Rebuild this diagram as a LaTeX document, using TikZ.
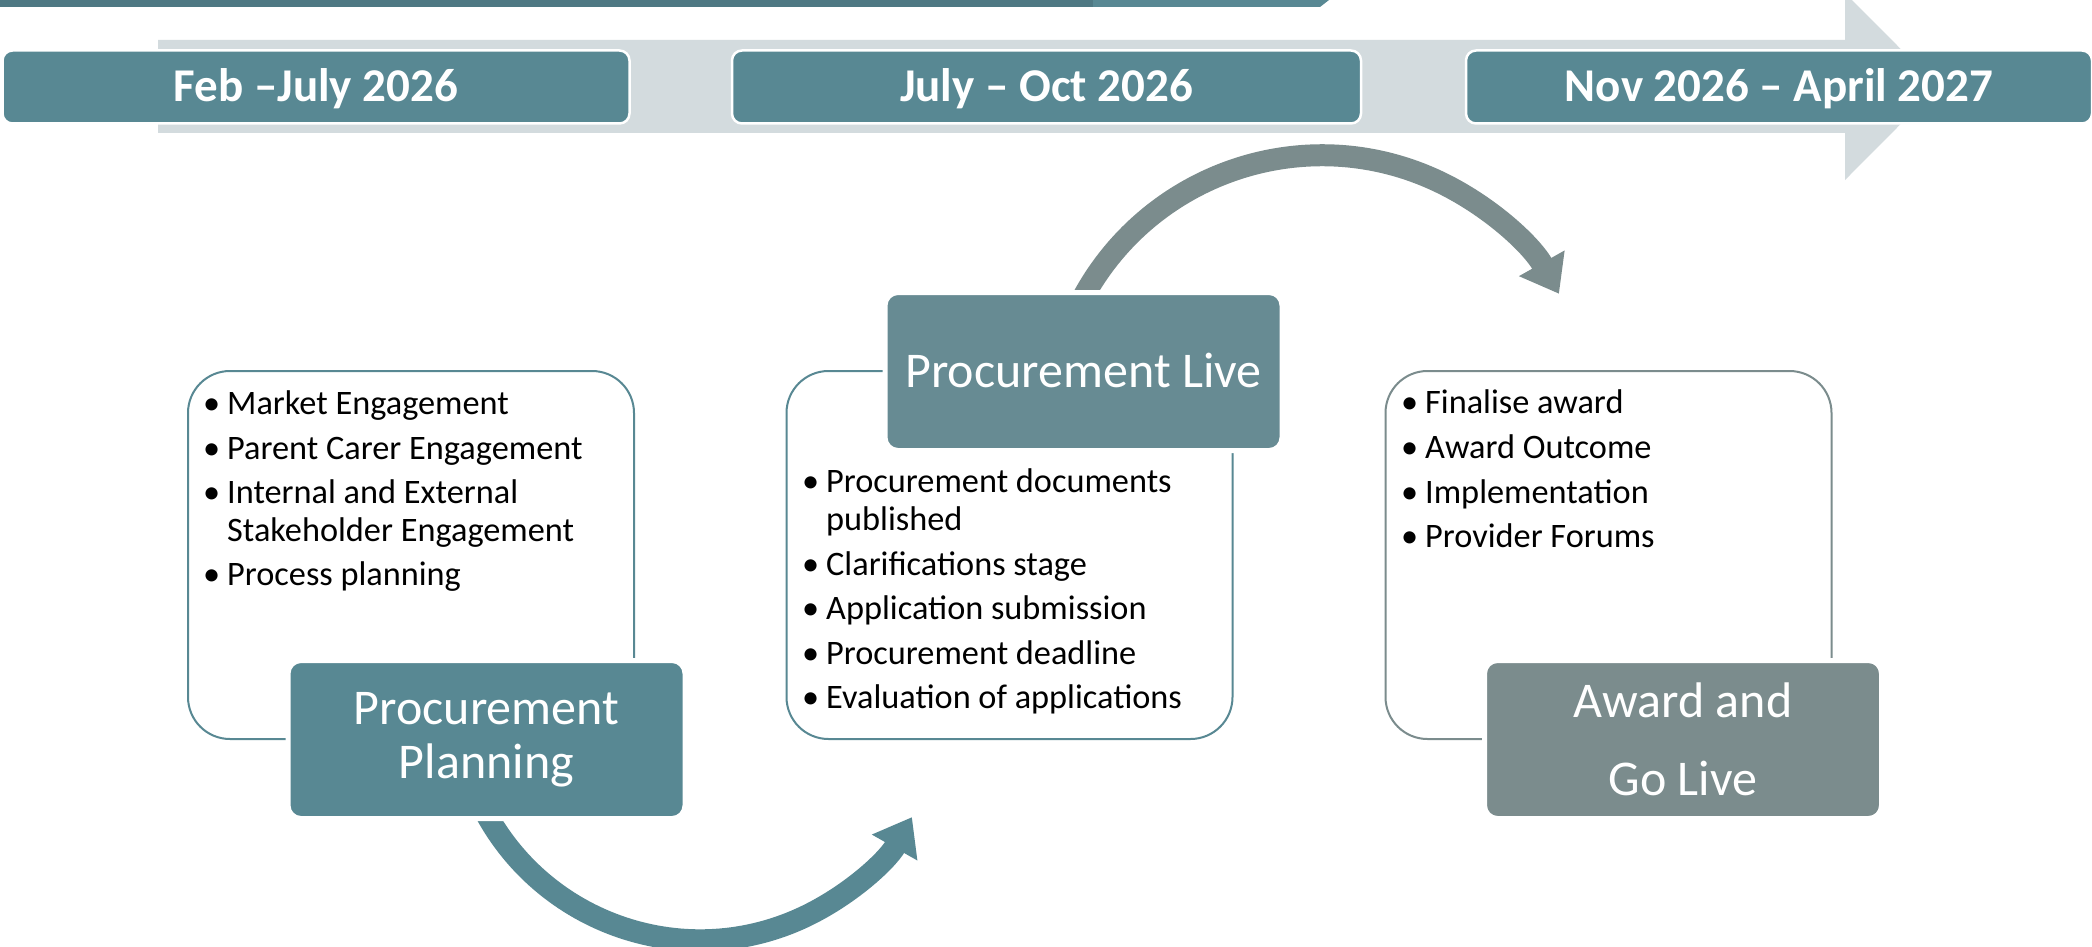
\documentclass[tikz,border=0pt]{standalone}
\usepackage{fontspec}
\setmainfont{Carlito}
\usetikzlibrary{arrows.meta}
\definecolor{cTeal}{HTML}{588893}
\definecolor{cLive}{HTML}{678B93}
\definecolor{cGrey}{HTML}{7B8C8D}
\definecolor{cBg}{HTML}{D3DBDE}
\definecolor{cBand}{HTML}{4E7883}
\newcommand\bul{\makebox[24pt][l]{\textbullet}}
\tikzset{
  datebox/.style={fill=cTeal, draw=white, line width=2.5pt, rounded corners=10pt,
    minimum height=73pt, text=white, font=\fontsize{47}{56}\selectfont\bfseries,
    text height=29.7pt, text depth=0pt, inner sep=0pt},
  outline/.style={draw=#1, line width=2pt, rounded corners=42pt,
    minimum width=446pt, minimum height=368pt, inner sep=0pt},
  titlebox/.style={fill=#1, draw=white, line width=5pt, rounded corners=13pt,
    minimum width=397pt, minimum height=158pt, inner sep=0pt, text=white, align=center},
  item/.style={anchor=base west, inner sep=0pt, font=\fontsize{34.3}{38}\selectfont},
  bigarc/.style={draw=#1, line width=22pt, -{Triangle[length=35pt, width=50pt]}}
}
\begin{document}
\begin{tikzpicture}[x=1pt, y=-1pt]
\useasboundingbox (0,0) rectangle (2092,947);
\fill[white] (0,0) rectangle (2092,947);
% cut-off band at top
\fill[cBand] (0,0) -- (1093,0) -- (1093,7) -- (0,7) -- cycle;
\fill[cTeal] (1093,0) -- (1329,0) -- (1320,7) -- (1093,7) -- cycle;
% timeline arrow
\fill[cBg] (158,40) -- (1845,40) -- (1845,-7) -- (1938,86.5) -- (1845,180) -- (1845,133) -- (158,133) -- cycle;
% date boxes
\node[datebox, minimum width=627pt] (d1) at (316,87) {Feb –July 2026};
\node[datebox, minimum width=629pt] (d2) at (1046.5,87) {July – Oct 2026};
\node[datebox, minimum width=626pt] (d3) at (1779,87) {Nov 2026 – April 2027};
% curved arrows
\coordinate (c1) at (700,696.25);
\coordinate (c2) at (1322,427.3);
\draw[bigarc=cTeal] ([shift={(155:244)}]c1) arc[start angle=155, end angle=29.7, radius=244];
\draw[bigarc=cGrey] ([shift={(205:272)}]c2) arc[start angle=205, end angle=330.6, radius=272];
% outline boxes
\node[outline=cTeal] (o1) at (411,555) {};
\node[outline=cTeal] (o2) at (1009.5,555) {};
\node[outline=cGrey] (o3) at (1608.5,555) {};
% items box 1
\node[item] (a1) at (203,414) {\bul Market Engagement};
\node[item] (a2) at (203,459) {\bul Parent Carer Engagement};
\node[item] (a3) at (203,503) {\bul Internal and External};
\node[item] (a3b) at (227,541) {Stakeholder Engagement};
\node[item] (a4) at (203,585) {\bul Process planning};
% items box 2
\node[item] (b1) at (802,492) {\bul Procurement documents};
\node[item] (b1b) at (826,530) {published};
\node[item] (b2) at (802,575) {\bul Clarifications stage};
\node[item] (b3) at (802,619.5) {\bul Application submission};
\node[item] (b4) at (802,664) {\bul Procurement deadline};
\node[item] (b5) at (802,708.5) {\bul Evaluation of applications};
% items box 3
\node[item] (e1) at (1401,413) {\bul Finalise award};
\node[item] (e2) at (1401,458) {\bul Award Outcome};
\node[item] (e3) at (1401,503) {\bul Implementation};
\node[item] (e4) at (1401,547) {\bul Provider Forums};
% title boxes
\node[titlebox=cTeal, font=\fontsize{50}{54}\selectfont] (t1) at (486.5,739.5) {Procurement\\Planning};
\node[titlebox=cLive, font=\fontsize{50}{60}\selectfont, text height=31.6pt, text depth=0pt] (t2) at (1083.5,371.5) {Procurement Live};
\node[titlebox=cGrey, font=\fontsize{50}{78}\selectfont] (t3) at (1683,739.5) {Award and\\Go Live};
\end{tikzpicture}
\end{document}
